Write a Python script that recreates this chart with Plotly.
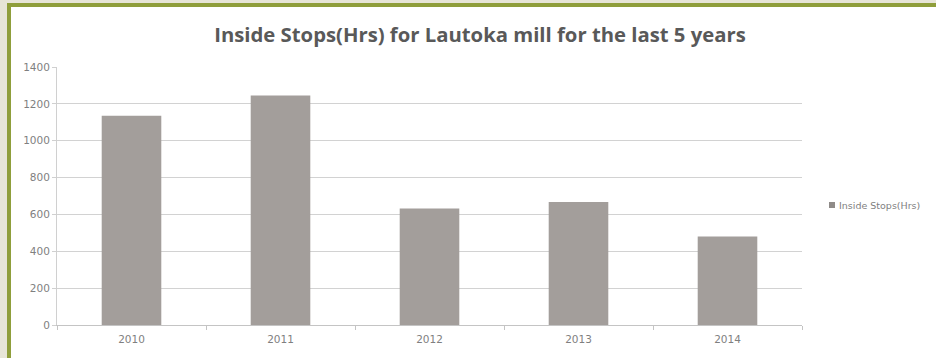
import plotly.graph_objects as go

# Inside stop hours at the Lautoka mill, by year
years = ["2010", "2011", "2012", "2013", "2014"]
inside_stops_hrs = [1135, 1245, 632, 668, 480]
y_ticks = [0, 200, 400, 600, 800, 1000, 1200, 1400]
series_name = "Inside Stops(Hrs)"

W, H = 936, 358
L, R, T, B = 57, 134, 67, 33
pw, ph = W - L - R, H - T - B


def px(x):
    return (x - L) / pw


def py(y):
    return (H - B - y) / ph


bar_color = "#a39e9b"
small_font = "DejaVu Sans, Verdana, sans-serif"
tick_font = dict(family=small_font, size=10.5, color="#7f7f7f")

fig = go.Figure()
fig.add_trace(go.Bar(
    x=years, y=inside_stops_hrs, marker=dict(color=bar_color, line=dict(width=0)),
    name=series_name, showlegend=False,
))

# framed page: beige margin, olive rule, white card
fig.add_shape(type="rect", xref="paper", yref="paper", layer="below",
              x0=px(7), x1=px(W + 20), y0=py(3), y1=py(H + 20),
              fillcolor="#8f9e3b", line=dict(width=0))
fig.add_shape(type="rect", xref="paper", yref="paper", layer="below",
              x0=px(11), x1=px(W + 20), y0=py(7), y1=py(H + 20),
              fillcolor="#ffffff", line=dict(width=0))

# compact legend: small swatch followed by the series name
fig.add_shape(type="rect", xref="paper", yref="paper",
              x0=px(829), x1=px(835), y0=py(202), y1=py(208),
              fillcolor="#8f8b88", line=dict(width=0))
fig.add_annotation(
    text=series_name, xref="paper", yref="paper", x=px(837), y=py(205),
    xanchor="left", yanchor="middle", showarrow=False,
    font=dict(family=small_font, size=9.5, color="#7f7f7f"),
)

fig.update_layout(
    width=W, height=H,
    margin=dict(l=L, r=R, t=T, b=B, autoexpand=False),
    paper_bgcolor="#e7e5d7",
    plot_bgcolor="#ffffff",
    bargap=0.6,
    showlegend=False,
    title=dict(
        text="<b>Inside Stops(Hrs) for Lautoka mill for the last 5 years</b>",
        xref="container", x=480 / W, xanchor="center",
        yref="container", y=1 - 35 / H, yanchor="middle",
        font=dict(family="Open Sans, sans-serif", size=20.3, color="#595959"),
    ),
    xaxis=dict(
        type="category", showgrid=False, showline=True, linecolor="#c4c4c4", linewidth=1,
        ticks="outside", tickson="boundaries", ticklen=4, tickcolor="#c4c4c4",
        tickfont=tick_font, ticklabelstandoff=4, fixedrange=True,
    ),
    yaxis=dict(
        range=[0, 1400], tickvals=y_ticks, showgrid=True, gridcolor="#d2d2d2", gridwidth=1.3,
        showline=True, linecolor="#d0d0d0", linewidth=1, zeroline=False,
        ticks="outside", ticklen=4, tickcolor="#d0d0d0", tickfont=tick_font,
        fixedrange=True,
    ),
)

fig.write_html("out.html")
